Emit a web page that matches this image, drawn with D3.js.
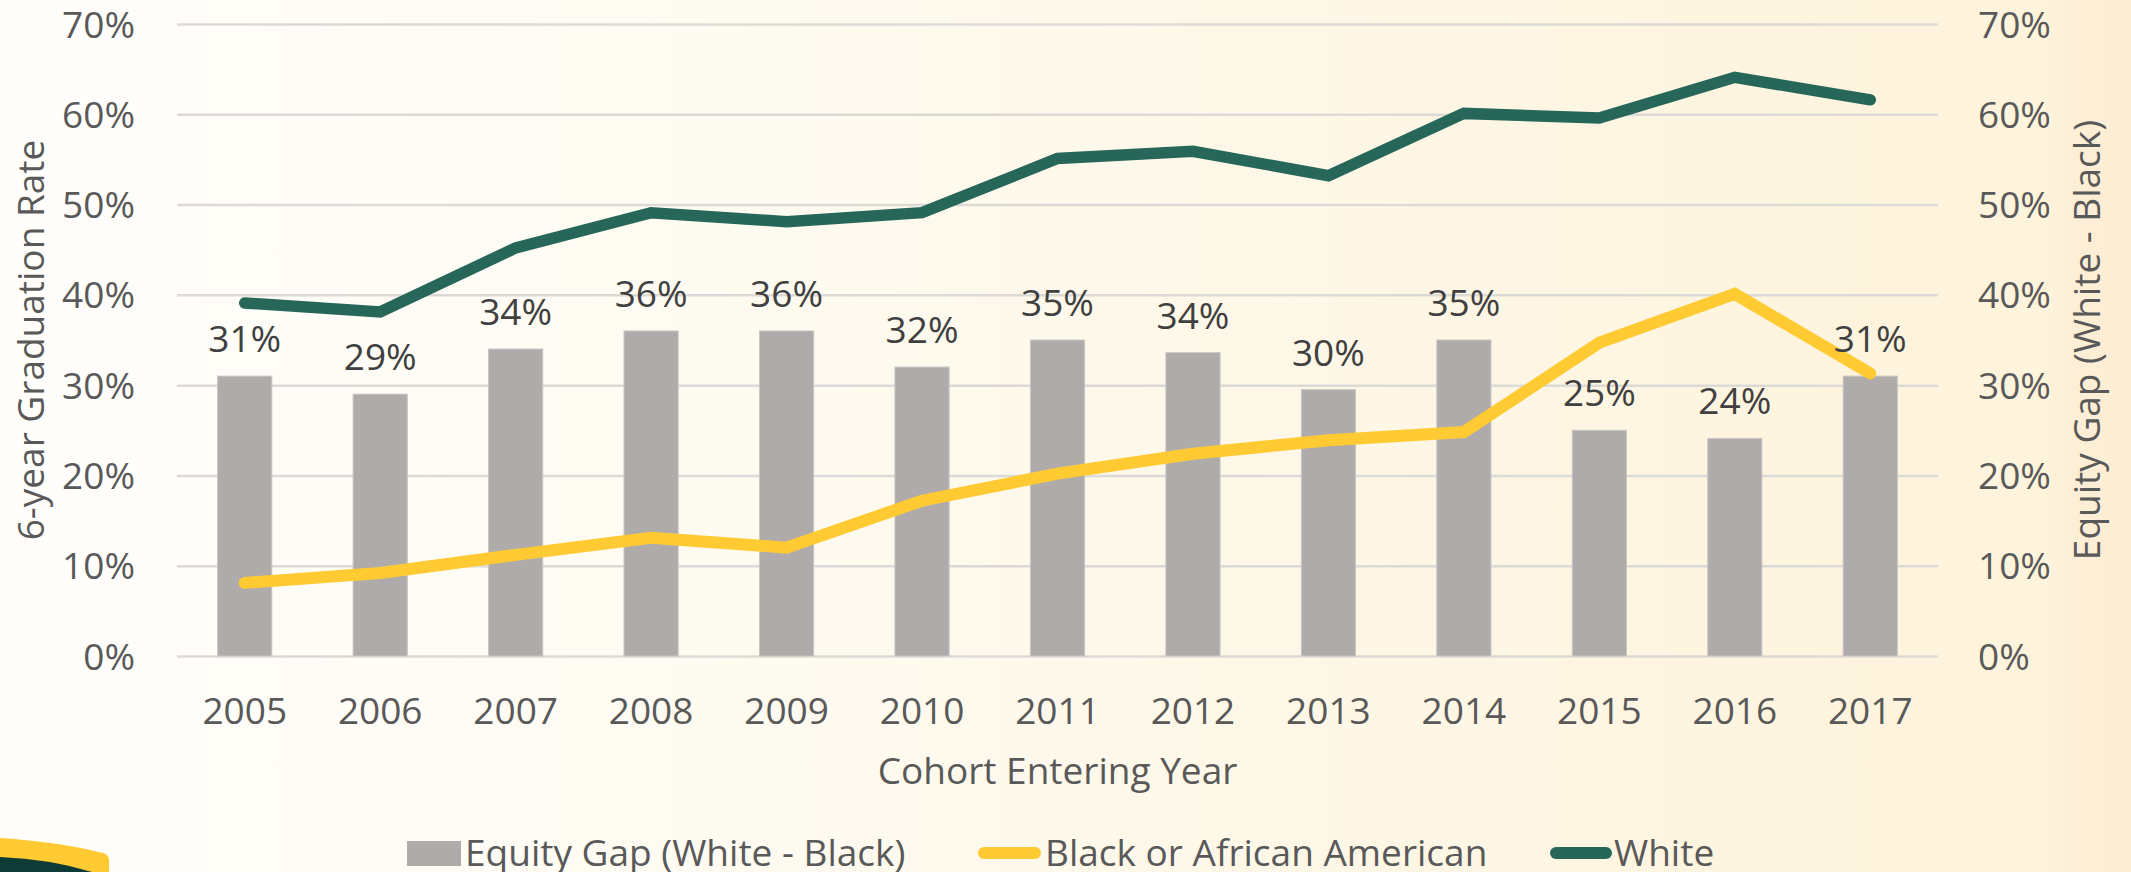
<!DOCTYPE html>
<html>
<head>
<meta charset="utf-8">
<script src="https://cdn.jsdelivr.net/npm/d3@7"></script>
<style>
  html, body { margin: 0; padding: 0; overflow: hidden; }
  svg { display: block; font-family: "Open Sans", "Noto Sans", sans-serif; }
</style>
</head>
<body>
<svg id="chart" width="2131" height="872"></svg>
<script>
// chart values
var years = ["2005", "2006", "2007", "2008", "2009", "2010", "2011", "2012", "2013", "2014", "2015", "2016", "2017"];
var equity_gap = [0.31, 0.29, 0.34, 0.36, 0.36, 0.32, 0.35, 0.336, 0.295, 0.35, 0.25, 0.241, 0.31];
var black_rate = [0.081, 0.092, 0.112, 0.131, 0.120, 0.172, 0.202, 0.224, 0.239, 0.248, 0.347, 0.401, 0.313];
var white_rate = [0.391, 0.381, 0.452, 0.491, 0.481, 0.491, 0.551, 0.559, 0.532, 0.601, 0.596, 0.641, 0.616];
var y_ticks = [0, 0.1, 0.2, 0.3, 0.4, 0.5, 0.6, 0.7];
var legend_labels = ["Equity Gap (White - Black)", "Black or African American", "White"];

var svg = d3.select("#chart"),
    width = +svg.attr("width"),
    height = +svg.attr("height");

var plot = {left: 177, right: 1938, top: 24, bottom: 656};

var bar_colour = "#AFABAB",
    black_colour = "#FFCA32",
    white_colour = "#26675A",
    tick_colour = "#595959",
    label_colour = "#404040",
    grid_colour = "#DCDAD6";

var pct = d3.format(".0%");

//background gradient
var defs = svg.append("defs");
var grad = defs.append("linearGradient")
    .attr("id", "bg")
    .attr("x1", "0%").attr("x2", "100%").attr("y1", "0%").attr("y2", "0%");
grad.append("stop").attr("offset", "0%").attr("stop-color", "#FFFEFB");
grad.append("stop").attr("offset", "30%").attr("stop-color", "#FEFBF2");
grad.append("stop").attr("offset", "96%").attr("stop-color", "#FEF3DB");
grad.append("stop").attr("offset", "97.5%").attr("stop-color", "#FDEED6");
grad.append("stop").attr("offset", "100%").attr("stop-color", "#FDEDD3");

svg.append("rect")
    .attr("width", width)
    .attr("height", height)
    .attr("fill", "url(#bg)");

//corner of the logo at bottom left
svg.append("path")
    .attr("d", "M0,838 Q60,842 103,853 Q109,855 109,860 L109,872 L0,872 Z")
    .attr("fill", "#FFCA32");
svg.append("path")
    .attr("d", "M0,857 Q50,859 92,872 L0,872 Z")
    .attr("fill", "#0E3B36");

//scales
var x = d3.scaleBand()
    .domain(years)
    .range([plot.left, plot.right])
    .paddingInner(0.6)
    .paddingOuter(0.3);

var y = d3.scaleLinear()
    .domain([0, 0.7])
    .range([plot.bottom, plot.top]);

// gridlines
var grid = svg.append("g")
    .attr("class", "grid")
    .attr("transform", "translate(" + plot.left + ",0)")
    .call(d3.axisLeft(y).tickValues(y_ticks).tickSize(-(plot.right - plot.left)).tickFormat(""));
grid.select(".domain").remove();
grid.selectAll("line")
    .attr("stroke", grid_colour)
    .attr("stroke-width", 2.5);

//left axis
var left_axis = svg.append("g")
    .attr("transform", "translate(" + plot.left + ",0)")
    .call(d3.axisLeft(y).tickValues(y_ticks).tickSize(0).tickPadding(42).tickFormat(pct));
left_axis.select(".domain").remove();
left_axis.selectAll("text")
    .attr("dy", 13)
    .attr("fill", tick_colour)
    .style("font-size", "37px")
    .style("font-family", "'Open Sans', sans-serif");

//right axis
var right_axis = svg.append("g")
    .attr("transform", "translate(" + plot.right + ",0)")
    .call(d3.axisRight(y).tickValues(y_ticks).tickSize(0).tickPadding(40).tickFormat(pct));
right_axis.select(".domain").remove();
right_axis.selectAll("text")
    .attr("dy", 13)
    .attr("fill", tick_colour)
    .style("font-size", "37px")
    .style("font-family", "'Open Sans', sans-serif");

//bottom axis
var bottom_axis = svg.append("g")
    .attr("transform", "translate(0," + plot.bottom + ")")
    .call(d3.axisBottom(x).tickSize(0));
bottom_axis.select(".domain").remove();
bottom_axis.selectAll("text")
    .attr("y", 68)
    .attr("dy", 0)
    .attr("fill", tick_colour)
    .style("font-size", "37px")
    .style("font-family", "'Open Sans', sans-serif");

//bars
svg.append("g")
    .selectAll("rect")
    .data(equity_gap)
    .enter().append("rect")
    .attr("x", function(d, i) { return x(years[i]); })
    .attr("width", x.bandwidth())
    .attr("y", function(d) { return y(d); })
    .attr("height", function(d) { return y(0) - y(d); })
    .attr("fill", bar_colour)
    .attr("stroke", "#C9C6C4")
    .attr("stroke-width", 1);

//lines
var line_gen = d3.line()
    .x(function(d, i) { return x(years[i]) + x.bandwidth() / 2; })
    .y(function(d) { return y(d); });

svg.append("path")
    .datum(black_rate)
    .attr("d", line_gen)
    .attr("fill", "none")
    .attr("stroke", black_colour)
    .attr("stroke-width", 12)
    .attr("stroke-linecap", "round")
    .attr("stroke-linejoin", "miter");

svg.append("path")
    .datum(white_rate)
    .attr("d", line_gen)
    .attr("fill", "none")
    .attr("stroke", white_colour)
    .attr("stroke-width", 11.5)
    .attr("stroke-linecap", "round")
    .attr("stroke-linejoin", "miter");

//data labels on bars
svg.append("g")
    .selectAll("text")
    .data(equity_gap)
    .enter().append("text")
    .attr("x", function(d, i) { return x(years[i]) + x.bandwidth() / 2; })
    .attr("y", function(d) { return y(d) - 24; })
    .attr("text-anchor", "middle")
    .attr("fill", label_colour)
    .style("font-size", "37px")
    .text(function(d) { return pct(d); });

//axis titles
svg.append("text")
    .attr("transform", "translate(44," + ((plot.top + plot.bottom) / 2) + ") rotate(-90)")
    .attr("text-anchor", "middle")
    .attr("fill", tick_colour)
    .style("font-size", "37px")
    .text("6-year Graduation Rate");

svg.append("text")
    .attr("transform", "translate(2100," + ((plot.top + plot.bottom) / 2) + ") rotate(-90)")
    .attr("text-anchor", "middle")
    .attr("fill", tick_colour)
    .style("font-size", "37px")
    .text("Equity Gap (White - Black)");

svg.append("text")
    .attr("x", (plot.left + plot.right) / 2)
    .attr("y", 784)
    .attr("text-anchor", "middle")
    .attr("fill", tick_colour)
    .style("font-size", "37px")
    .text("Cohort Entering Year");

//legend
var legend = svg.append("g").attr("class", "legend");
var legend_y = 853,
    legend_text_y = 866;

legend.append("rect")
    .attr("x", 407).attr("y", 841)
    .attr("width", 54).attr("height", 25)
    .attr("fill", bar_colour);
legend.append("text")
    .attr("x", 465).attr("y", legend_text_y)
    .attr("fill", tick_colour)
    .style("font-size", "37px")
    .text(legend_labels[0]);

legend.append("line")
    .attr("x1", 984).attr("x2", 1035)
    .attr("y1", legend_y).attr("y2", legend_y)
    .attr("stroke", black_colour)
    .attr("stroke-width", 12)
    .attr("stroke-linecap", "round");
legend.append("text")
    .attr("x", 1045).attr("y", legend_text_y)
    .attr("fill", tick_colour)
    .style("font-size", "37px")
    .text(legend_labels[1]);

legend.append("line")
    .attr("x1", 1556).attr("x2", 1606)
    .attr("y1", legend_y).attr("y2", legend_y)
    .attr("stroke", white_colour)
    .attr("stroke-width", 12)
    .attr("stroke-linecap", "round");
legend.append("text")
    .attr("x", 1614).attr("y", legend_text_y)
    .attr("fill", tick_colour)
    .style("font-size", "37px")
    .text(legend_labels[2]);
</script>
</body>
</html>
